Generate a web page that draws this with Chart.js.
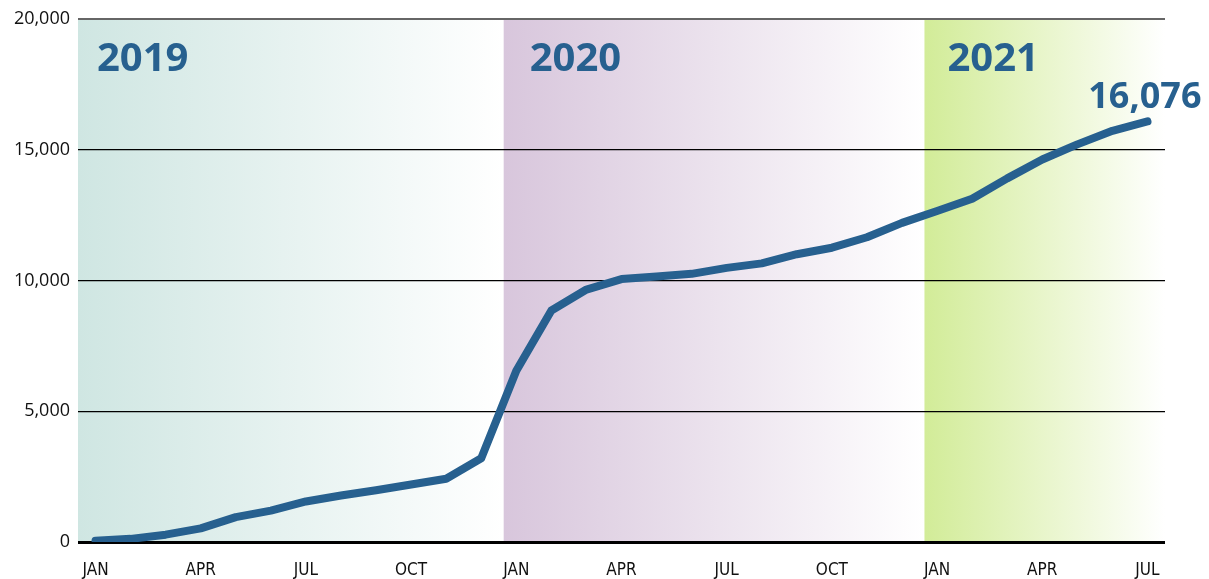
<!DOCTYPE html>
<html lang="en">
<head>
  <meta charset="UTF-8" />
  <title>Cumulative total 2019-2021</title>
  <script src="https://cdn.jsdelivr.net/npm/chart.js"></script>
  <style>
    body {
      margin: 0;
      background: #fff;
    }
    .chart-box {
      width: 1209px;
      height: 579px;
    }
  </style>
</head>
<body>
  <div class="chart-box"><canvas id="growthChart"></canvas></div>

  <script>
    // months Jan 2019 .. Jul 2021
    const months = [
      'JAN','FEB','MAR','APR','MAY','JUN','JUL','AUG','SEP','OCT','NOV','DEC',
      'JAN','FEB','MAR','APR','MAY','JUN','JUL','AUG','SEP','OCT','NOV','DEC',
      'JAN','FEB','MAR','APR','MAY','JUN','JUL'
    ];
    const totals = [
      50, 120, 280, 520, 950, 1200, 1550, 1780, 1980, 2200, 2420, 3200,
      6550, 8850, 9650, 10050, 10150, 10250, 10480, 10650, 11000, 11250, 11650, 12200,
      12650, 13120, 13900, 14620, 15200, 15720, 16076
    ];
    const yTicks = [0, 5000, 10000, 15000, 20000];
    const years = ['2019', '2020', '2021'];
    const yearStart = [0, 12, 24];
    const yearColors = ['#cfe6e2', '#d8c6dc', '#d2ec98'];
    const lastLabel = '16,076';

    const blue = '#27608f';
    const labelShift = [19, 26, 23];

    function bandLeft(x, area, i) {
      return i === 0 ? area.left : x.getPixelForValue(yearStart[i] - 0.36);
    }

    const yearBands = {
      id: 'yearBands',
      beforeDraw(chart) {
        const { ctx, chartArea, scales } = chart;
        const x = scales.x;
        ctx.save();
        years.forEach((yr, i) => {
          const left = bandLeft(x, chartArea, i);
          const right = i === years.length - 1 ? chartArea.right : bandLeft(x, chartArea, i + 1);
          const grad = ctx.createLinearGradient(left, 0, right, 0);
          grad.addColorStop(0, yearColors[i]);
          grad.addColorStop(1, '#ffffff');
          ctx.fillStyle = grad;
          ctx.fillRect(left, chartArea.top, right - left, chartArea.bottom - chartArea.top);
        });
        ctx.restore();
      },
      afterDraw(chart) {
        const { ctx, chartArea, scales } = chart;
        const x = scales.x, y = scales.y;
        ctx.save();
        ctx.fillStyle = blue;
        ctx.font = 'bold 40px "Open Sans", sans-serif';
        ctx.textBaseline = 'alphabetic';
        ctx.textAlign = 'left';
        years.forEach((yr, i) => {
          ctx.fillText(yr, bandLeft(x, chartArea, i) + labelShift[i], 71);
        });
        const last = totals.length - 1;
        ctx.font = 'bold 36px "Open Sans", sans-serif';
        ctx.textAlign = 'right';
        ctx.fillText(lastLabel, x.getPixelForValue(last) + 54, y.getPixelForValue(totals[last]) - 13);
        ctx.restore();
      }
    };

    new Chart(document.getElementById('growthChart'), {
      type: 'line',
      data: {
        labels: months,
        datasets: [{
          data: totals,
          borderColor: blue,
          borderWidth: 8,
          borderCapStyle: 'round',
          borderJoinStyle: 'round',
          pointRadius: 0,
          tension: 0,
          fill: false
        }]
      },
      options: {
        responsive: true,
        maintainAspectRatio: false,
        animation: false,
        layout: { padding: { top: 18, right: 44, left: 0, bottom: 0 } },
        plugins: {
          legend: { display: false },
          tooltip: { enabled: false }
        },
        scales: {
          x: {
            offset: true,
            border: { display: false },
            grid: { display: false },
            ticks: {
              autoSkip: false,
              maxRotation: 0,
              padding: 10,
              color: '#111',
              font: { family: '"Liberation Sans Narrow", "DejaVu Sans Condensed", sans-serif', size: 17 },
              callback: (v, i) => (i % 3 === 0 ? months[i] : '')
            },
            afterFit: s => { s.height = 37; }
          },
          y: {
            min: 0,
            max: 20000,
            afterBuildTicks: s => { s.ticks = yTicks.map(v => ({ value: v })); },
            border: { display: false },
            grid: {
              drawTicks: false,
              color: ctx => (ctx.tick.value === 20000 ? '#666' : '#000'),
              lineWidth: ctx => (ctx.tick.value === 0 ? 3 : ctx.tick.value === 20000 ? 2 : 1.2)
            },
            ticks: {
              padding: 8,
              color: '#111',
              font: { family: '"Open Sans", sans-serif', size: 18 },
              callback: v => v.toLocaleString('en-US')
            },
            afterFit: s => { s.width = 78; }
          }
        }
      },
      plugins: [yearBands]
    });
  </script>
</body>
</html>
